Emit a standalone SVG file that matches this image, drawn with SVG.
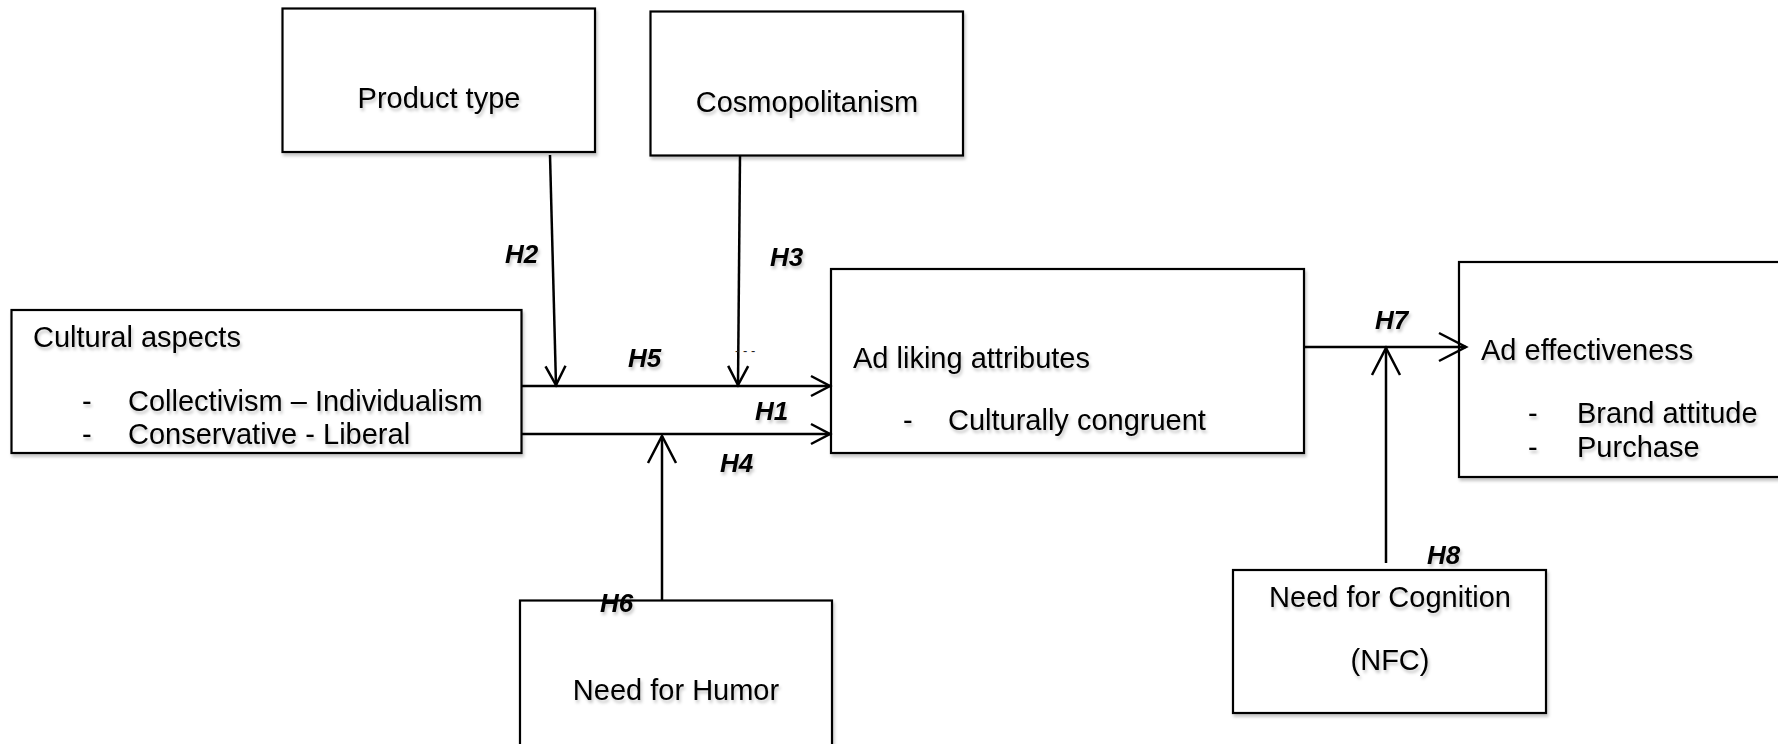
<svg xmlns="http://www.w3.org/2000/svg" width="1778" height="744" viewBox="0 0 1778 744">
  <defs>
    <filter id="sh" x="-10%" y="-20%" width="130%" height="160%">
      <feDropShadow dx="1.5" dy="3" stdDeviation="1.5" flood-color="#000" flood-opacity="0.22"/>
    </filter>
    <marker id="arS" viewBox="-22 -13 26 26" refX="0" refY="0" markerWidth="26" markerHeight="26" markerUnits="userSpaceOnUse" orient="auto" overflow="visible">
      <path d="M-19,-10 L0,0 L-19,10" fill="none" stroke="#000" stroke-width="2.5"/>
    </marker>
    <marker id="arL" viewBox="-30 -17 34 34" refX="0" refY="0" markerWidth="34" markerHeight="34" markerUnits="userSpaceOnUse" orient="auto" overflow="visible">
      <path d="M-27,-14 L0,0 L-27,14" fill="none" stroke="#000" stroke-width="2.5"/>
    </marker>
  </defs>
  <style>
    .box { fill: #fff; stroke: #000; stroke-width: 2.2; filter: url(#sh); }
    .t { font-family: "Liberation Sans", Arial, sans-serif; font-size: 29px; fill: #000; filter: url(#sh); }
    .h { font-family: "Liberation Sans", Arial, sans-serif; font-size: 26px; font-weight: bold; font-style: italic; fill: #000; filter: url(#sh); }
    .c { fill: none; stroke: #000; stroke-width: 2.5; }
  </style>
  <rect width="1778" height="744" fill="#fff"/>

  <g id="product-type">
    <rect class="box" x="282.5" y="8.5" width="312.5" height="143.5"/>
    <text class="t" x="439" y="108" text-anchor="middle">Product type</text>
  </g>

  <g id="cosmopolitanism">
    <rect class="box" x="650.5" y="11.5" width="312.5" height="144"/>
    <text class="t" x="807" y="112" text-anchor="middle">Cosmopolitanism</text>
  </g>

  <g id="cultural-aspects">
    <rect class="box" x="11.5" y="310" width="510" height="143"/>
    <text class="t" x="33" y="347">Cultural aspects</text>
    <text class="t" x="82" y="411">-</text>
    <text class="t" x="128" y="411">Collectivism – Individualism</text>
    <text class="t" x="82" y="444">-</text>
    <text class="t" x="128" y="444">Conservative - Liberal</text>
  </g>

  <g id="ad-liking">
    <rect class="box" x="831" y="269" width="473" height="184"/>
    <text class="t" x="853" y="368">Ad liking attributes</text>
    <text class="t" x="903" y="430">-</text>
    <text class="t" x="948" y="430">Culturally congruent</text>
  </g>

  <g id="ad-effectiveness">
    <rect class="box" x="1459" y="262" width="340" height="215"/>
    <text class="t" x="1481" y="360">Ad effectiveness</text>
    <text class="t" x="1528" y="423">-</text>
    <text class="t" x="1577" y="423">Brand attitude</text>
    <text class="t" x="1528" y="457">-</text>
    <text class="t" x="1577" y="457">Purchase</text>
  </g>

  <g id="need-for-humor">
    <rect class="box" x="520" y="600.5" width="312" height="152"/>
    <text class="t" x="676" y="700" text-anchor="middle">Need for Humor</text>
  </g>

  <g id="need-for-cognition">
    <rect class="box" x="1233" y="570" width="313" height="143"/>
    <text class="t" x="1390" y="607" text-anchor="middle">Need for Cognition</text>
    <text class="t" x="1390" y="670" text-anchor="middle">(NFC)</text>
  </g>

  <g id="connectors">
    <line class="c" x1="550" y1="155" x2="556" y2="385" marker-end="url(#arS)"/>
    <line class="c" x1="740" y1="156" x2="738" y2="385" marker-end="url(#arS)"/>
    <line class="c" x1="521" y1="386" x2="830" y2="386" marker-end="url(#arS)"/>
    <line class="c" x1="521" y1="434" x2="830" y2="434" marker-end="url(#arS)"/>
    <line class="c" x1="662" y1="600" x2="662" y2="436" marker-end="url(#arL)"/>
    <line class="c" x1="1304" y1="347" x2="1466" y2="347" marker-end="url(#arL)"/>
    <line class="c" x1="1386" y1="563" x2="1386" y2="348" marker-end="url(#arL)"/>
  </g>

  <g id="labels">
    <text class="h" x="505" y="263">H2</text>
    <text class="h" x="770" y="266">H3</text>
    <text class="h" x="628" y="367">H5</text>
    <text x="735" y="355" font-family="Liberation Sans, Arial, sans-serif" font-size="13" fill="#222">- - -</text>
    <text class="h" x="755" y="420">H1</text>
    <text class="h" x="720" y="472">H4</text>
    <text class="h" x="600" y="612">H6</text>
    <text class="h" x="1375" y="329">H7</text>
    <text class="h" x="1427" y="564">H8</text>
  </g>
</svg>
